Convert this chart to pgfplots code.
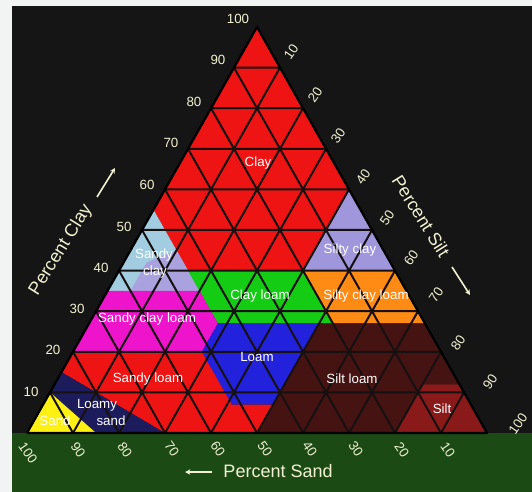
\documentclass[border=0pt]{standalone}
\usepackage{pgfplots}
\pgfplotsset{compat=1.18}
\usepackage{fontspec}
\setmainfont{Liberation Sans}
\usetikzlibrary{arrows.meta}

\definecolor{frame}{HTML}{F2F4F4}
\definecolor{bgblack}{HTML}{151515}
\definecolor{bggreen}{HTML}{1C4A15}
\definecolor{ticktext}{HTML}{F2F2D2}
\definecolor{gridc}{HTML}{161010}
\definecolor{cClay}{HTML}{EE1414}
\definecolor{cSandyClay}{HTML}{A2CCE0}
\definecolor{cSandyClayB}{HTML}{A9A2DE}
\definecolor{cSiltyClay}{HTML}{A096DC}
\definecolor{cClayLoam}{HTML}{14CC14}
\definecolor{cSiltyClayLoam}{HTML}{FF8A14}
\definecolor{cSandyClayLoam}{HTML}{EE14CC}
\definecolor{cLoam}{HTML}{2222DD}
\definecolor{cSandyLoam}{HTML}{EE1414}
\definecolor{cSiltLoam}{HTML}{461313}
\definecolor{cSilt}{HTML}{8A1A1A}
\definecolor{cLoamySand}{HTML}{1C1C5C}
\definecolor{cSand}{HTML}{FFF014}

% one texture class: rows of clay, silt, sand (percent)
\newcommand\soil[2]{%
  \addplot[draw=none, fill=#1] table[row sep=\\,
    x expr=\thisrow{si}+0.5*\thisrow{cl}, y expr=\thisrow{cl}] {cl si sa\\ #2};}

\begin{document}
\begin{tikzpicture}[
    tlab/.style={font=\fontsize{10}{12}\selectfont, text=ticktext, inner sep=0pt},
    clab/.style={font=\fontsize{10}{12}\selectfont, text=white, inner sep=0pt},
    ttl/.style={font=\fontsize{13.5}{16}\selectfont, text=ticktext, inner sep=0pt},
    arr/.style={ticktext, line width=1.2pt, -{Stealth[length=4pt,width=4pt]}},
]
\begin{axis}[
    width=399pt, height=368.25pt,
    scale only axis,
    hide axis,
    xmin=-5.87, xmax=109.78,
    ymin=-14.29, ymax=106.65,
]
% background
\addplot[draw=none, fill=frame] coordinates {(-10,-20) (120,-20) (120,120) (-10,120)};
\addplot[draw=none, fill=bgblack] coordinates {(-3.26,-20) (120,-20) (120,105.17) (-3.26,105.17)};
\addplot[draw=none, fill=bggreen] coordinates {(-3.26,-20) (120,-20) (120,0) (-3.26,0)};

% texture classes
\soil{cClay}{100 0 0\\ 60 40 0\\ 40 40 20\\ 40 15 45\\ 55 0 45\\}
\soil{cSiltyClay}{60 40 0\\ 40 60 0\\ 40 40 20\\}
\soil{cSandyClay}{55 0 45\\ 40 15 45\\ 35 20 45\\ 35 0 65\\}
\soil{cSandyClayB}{45 10 45\\ 35 20 45\\ 35 5 60\\ 42 5 53\\}
\soil{cSiltyClayLoam}{40 60 0\\ 40 40 20\\ 27 53 20\\ 27 73 0\\}
\soil{cClayLoam}{40 40 20\\ 40 15 45\\ 27 28 45\\ 27 53 20\\}
\soil{cSandyClayLoam}{35 0 65\\ 35 20 45\\ 27 28 45\\ 20 28 52\\ 20 0 80\\}
\soil{cLoam}{27 28 45\\ 27 50 23\\ 7 50 43\\ 7 41 52\\ 20 28 52\\}
\soil{cSiltLoam}{27 50 23\\ 27 73 0\\ 12 88 0\\ 12 80 8\\ 0 80 20\\ 0 50 50\\ 7 50 43\\}
\soil{cSilt}{12 88 0\\ 0 100 0\\ 0 80 20\\ 12 80 8\\}
\soil{cSandyLoam}{20 0 80\\ 20 28 52\\ 7 41 52\\ 7 50 43\\ 0 50 50\\ 0 30 70\\ 15 0 85\\}
\soil{cLoamySand}{15 0 85\\ 0 30 70\\ 0 15 85\\ 10 0 90\\}
\soil{cSand}{10 0 90\\ 0 15 85\\ 0 0 100\\}

% 10 % grid
\addplot[gridc, line width=1.5pt, unbounded coords=jump] coordinates {
    (5,10) (95,10) (nan,nan) (10,20) (90,20) (nan,nan) (15,30) (85,30) (nan,nan)
    (20,40) (80,40) (nan,nan) (25,50) (75,50) (nan,nan) (30,60) (70,60) (nan,nan)
    (35,70) (65,70) (nan,nan) (40,80) (60,80) (nan,nan) (45,90) (55,90) (nan,nan)
    (10,0) (55,90) (nan,nan) (20,0) (60,80) (nan,nan) (30,0) (65,70) (nan,nan)
    (40,0) (70,60) (nan,nan) (50,0) (75,50) (nan,nan) (60,0) (80,40) (nan,nan)
    (70,0) (85,30) (nan,nan) (80,0) (90,20) (nan,nan) (90,0) (95,10) (nan,nan)
    (10,0) (5,10) (nan,nan) (20,0) (10,20) (nan,nan) (30,0) (15,30) (nan,nan)
    (40,0) (20,40) (nan,nan) (50,0) (25,50) (nan,nan) (60,0) (30,60) (nan,nan)
    (70,0) (35,70) (nan,nan) (80,0) (40,80) (nan,nan) (90,0) (45,90)
};
\addplot[black, line width=1.7pt, line join=round] coordinates {(0,0) (100,0) (50,100) (0,0)};

% class names
\node[clab] at (axis cs:50.22,66.50) {Clay};
\node[clab] at (axis cs:27.61,43.84) {Sandy};
\node[clab] at (axis cs:27.83,39.66) {clay};
\node[clab] at (axis cs:70.22,45.07) {Silty clay};
\node[clab] at (axis cs:50.65,33.74) {Clay loam};
\node[clab] at (axis cs:73.70,33.74) {Silty clay loam};
\node[clab] at (axis cs:26.09,28.08) {Sandy clay loam};
\node[clab] at (axis cs:50.00,18.72) {Loam};
\node[clab] at (axis cs:26.30,13.30) {Sandy loam};
\node[clab] at (axis cs:70.65,13.30) {Silt loam};
\node[clab] at (axis cs:15.22,6.90) {Loamy};
\node[clab] at (axis cs:18.26,2.96) {sand};
\node[clab] at (axis cs:6.09,2.96) {Sand};
\node[clab] at (axis cs:90.22,5.91) {Silt};

% clay ticks
\node[tlab] at (axis cs:45.87,101.97) {100};
\node[tlab] at (axis cs:41.52,91.87) {90};
\node[tlab] at (axis cs:36.30,81.53) {80};
\node[tlab] at (axis cs:31.30,71.43) {70};
\node[tlab] at (axis cs:26.09,61.08) {60};
\node[tlab] at (axis cs:21.09,50.74) {50};
\node[tlab] at (axis cs:16.09,40.64) {40};
\node[tlab] at (axis cs:10.87,30.54) {30};
\node[tlab] at (axis cs:5.65,20.44) {20};
\node[tlab] at (axis cs:0.87,10.10) {10};
% silt ticks
\node[tlab, rotate=55] at (axis cs:57.39,93.84) {10};
\node[tlab, rotate=55] at (axis cs:62.61,83.25) {20};
\node[tlab, rotate=55] at (axis cs:67.61,73.15) {30};
\node[tlab, rotate=55] at (axis cs:73.04,63.05) {40};
\node[tlab, rotate=55] at (axis cs:78.26,52.96) {50};
\node[tlab, rotate=55] at (axis cs:83.48,43.10) {60};
\node[tlab, rotate=55] at (axis cs:88.91,33.99) {70};
\node[tlab, rotate=55] at (axis cs:93.70,22.17) {80};
\node[tlab, rotate=55] at (axis cs:100.65,12.56) {90};
\node[tlab, rotate=55] at (axis cs:106.74,2.22) {100};
% sand ticks
\node[tlab, rotate=-55] at (axis cs:0.22,-4.93) {100};
\node[tlab, rotate=-55] at (axis cs:11.09,-4.19) {90};
\node[tlab, rotate=-55] at (axis cs:21.30,-4.19) {80};
\node[tlab, rotate=-55] at (axis cs:31.52,-3.94) {70};
\node[tlab, rotate=-55] at (axis cs:41.52,-3.94) {60};
\node[tlab, rotate=-55] at (axis cs:51.74,-3.94) {50};
\node[tlab, rotate=-55] at (axis cs:61.52,-3.94) {40};
\node[tlab, rotate=-55] at (axis cs:71.52,-3.94) {30};
\node[tlab, rotate=-55] at (axis cs:81.52,-4.19) {20};
\node[tlab, rotate=-55] at (axis cs:91.52,-4.19) {10};

% axis titles
\node[ttl, rotate=58] at (axis cs:7.39,45.07) {Percent Clay};
\draw[arr] (axis cs:15.22,58.13) -- (axis cs:19.13,65.27);
\node[ttl, rotate=-58] at (axis cs:85.65,53.45) {Percent Silt};
\draw[arr] (axis cs:92.39,40.89) -- (axis cs:96.30,33.99);
\node[ttl] at (axis cs:54.57,-9.36) {Percent Sand};
\draw[arr] (axis cs:40.22,-9.61) -- (axis cs:34.35,-9.61);
\end{axis}
\end{tikzpicture}
\end{document}
